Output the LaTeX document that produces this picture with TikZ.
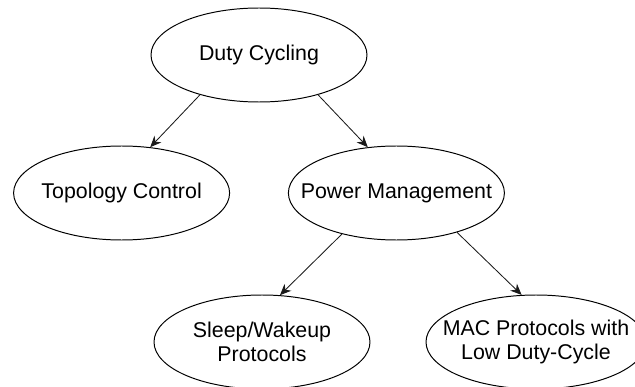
\documentclass[tikz,border=0pt]{standalone}
\usepackage{fontspec}
\setmainfont{Liberation Sans}
\usetikzlibrary{shapes.geometric, arrows.meta}
\definecolor{dcline}{HTML}{000000}
\definecolor{dcarrow}{HTML}{1A1A1A}

\begin{document}
\begin{tikzpicture}[font=\fontsize{15.2}{17}\selectfont,
    bubble/.style={ellipse, draw=dcline, line width=0.7pt, minimum width=5.4cm,
      minimum height=2.35cm, inner sep=0pt, label={[align=center]center:#1}},
    link/.style={draw=dcarrow, line width=0.6pt,
      -{Stealth[length=2.8mm, width=2.4mm, inset=0.9mm]}}]
    \useasboundingbox (0,0) rectangle (15.875,-9.675);
    % root
    \node[bubble={Duty Cycling}] (duty) at (6.475,-1.375) {};
    % second level
    \node[bubble={Topology Control}] (topo) at (3.04,-4.825) {};
    \node[bubble={Power Management}] (power) at (9.91,-4.825) {};
    % third level
    \node[bubble={Sleep/Wakeup\\Protocols}] (sleep) at (6.55,-8.55) {};
    \node[bubble={MAC Protocols with\\Low Duty-Cycle}, minimum width=5.5cm] (mac) at (13.4,-8.55) {};
    % arrows
    \draw[link] (duty.214) -- (topo.58);
    \draw[link] (duty.326) -- (power.122);
    \draw[link] (power.217) -- (sleep.69);
    \draw[link] (power.327) -- (mac.107);
  \end{tikzpicture}
\end{document}
